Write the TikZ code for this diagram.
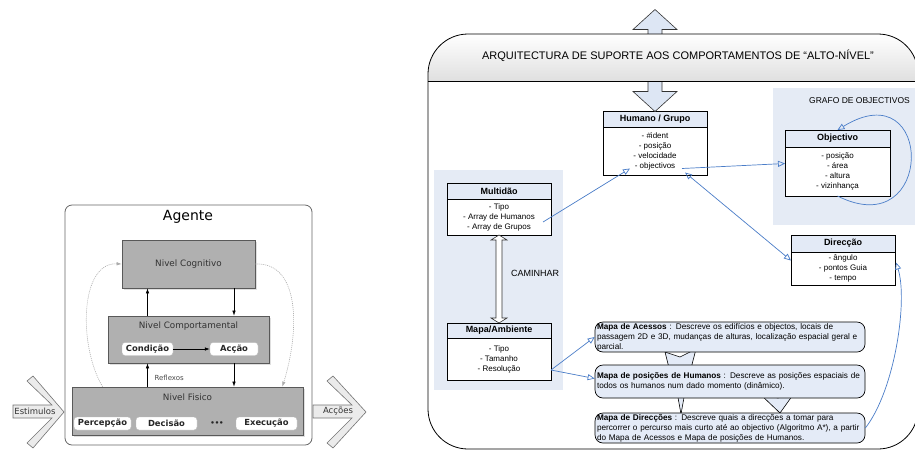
\documentclass[tikz,border=0pt]{standalone}
\usepackage{fontspec}
\setmainfont{Liberation Sans}
\newfontfamily\vera{DejaVu Sans}
\usetikzlibrary{positioning,arrows.meta,shadows}

\definecolor{azulzona}{HTML}{E5EBF5}
\definecolor{azulcab}{HTML}{E3EAF6}
\definecolor{azulmapa}{HTML}{E4EBF7}
\definecolor{azulseta}{HTML}{4A7DC8}
\definecolor{azulbloco}{HTML}{DDE6F4}
\definecolor{cinza}{HTML}{B0B0B0}

\tikzset{
  cab/.style={draw, fill=azulcab, font=\bfseries\fontsize{9}{10}\selectfont,
    minimum width=104pt, minimum height=16pt, inner sep=1pt, outer sep=0pt},
  corpo/.style={draw, fill=white, align=center, font=\fontsize{8}{10}\selectfont,
    minimum width=104pt, inner sep=2pt, outer sep=0pt},
  mapa/.style={draw, line width=0.7pt, rounded corners=8pt, fill=azulmapa, align=left,
    text width=266pt, font=\fontsize{8.2}{10}\selectfont, inner xsep=2pt, inner ysep=0pt},
  seta/.style={draw=azulseta, line width=0.7pt, -{Triangle[open,length=7pt,width=6pt]}},
  seta2/.style={seta, {Triangle[open,length=7pt,width=6pt]}-{Triangle[open,length=7pt,width=6pt]}},
  nivel/.style={draw=black!65, fill=cinza, line width=0.7pt,
    drop shadow={shadow xshift=1.5pt, shadow yshift=-1.5pt, opacity=0.25},
    font=\vera\fontsize{8.8}{10}\selectfont, text=black!80},
  ntxt/.style={font=\vera\fontsize{8.8}{10}\selectfont, text=black!80},
  sub/.style={draw=gray!55, fill=white, rounded corners=3pt, inner sep=0pt,
    minimum height=13pt, font=\vera\bfseries\fontsize{8.4}{9}\selectfont, text=black!85},
  liga/.style={line width=0.6pt, -{Latex[length=5pt,width=3.5pt]}},
  pontilhado/.style={draw=gray!65, line width=0.6pt, dash pattern=on 1pt off 1pt,
    -{Latex[length=5pt,width=3.5pt]}},
  blocoseta/.style={fill=black!8, draw=black!55, line width=0.6pt},
}

\begin{document}
\begin{tikzpicture}[x=1pt,y=-1pt]
  \useasboundingbox (0,0) rectangle (915,451);
  \fill[white] (0,0) rectangle (915,451);

  % Agente (esquerda)
  \draw[blocoseta] (13,405) -- (52,405) -- (27,381) -- (33,376) -- (64,412) -- (33,448) -- (27,443) -- (52,418) -- (13,418) -- cycle;
  \draw[blocoseta] (313,405) -- (352,405) -- (327,381) -- (333,376) -- (366,412) -- (333,448) -- (327,443) -- (352,418) -- (313,418) -- cycle;
  \node[font=\vera\fontsize{8.5}{10}\selectfont, text=black!80] (estim) at (35,411.5) {Estimulos};
  \node[font=\vera\fontsize{8.5}{10}\selectfont, text=black!80] (accoes) at (338,411.5) {Acções};

  \node[draw=black!60, line width=0.8pt, rounded corners=7pt, fill=white,
    minimum width=247pt, minimum height=240pt] (agente) at (188.5,325) {};
  \node[font=\vera\fontsize{14}{16}\selectfont] (tagente) at (188,217) {Agente};

  \node[nivel, minimum width=133pt, minimum height=48pt] (cog) at (188.5,264) {Nivel Cognitivo};
  \node[nivel, minimum width=161pt, minimum height=47pt] (comp) at (188.5,339.5) {};
  \node[ntxt] (tcomp) at (188.5,326) {Nivel Comportamental};
  \node[sub, minimum width=51pt] (cond) at (147.5,349) {Condição};
  \node[sub, minimum width=48pt] (acao) at (234,349) {Acção};
  \node[nivel, minimum width=231pt, minimum height=48pt] (fis) at (187.5,411) {};
  \node[ntxt] (tfis) at (187.5,397) {Nivel Fisico};
  \node[sub, minimum width=57pt] (perc) at (102.5,423.5) {Percepção};
  \node[sub, minimum width=61pt] (dec) at (166.5,423.5) {Decisão};
  \node[font=\vera\bfseries\fontsize{7}{8}\selectfont, text=black!85] (pontos) at (217,423.5) {•••};
  \node[sub, minimum width=61pt] (exe) at (266.5,423.5) {Execução};

  \draw[liga] (cond |- comp.north) -- (cond |- cog.south);
  \draw[liga] (acao |- cog.south) -- (acao |- comp.north);
  \draw[liga] (cond.east) -- (acao.west);
  \draw[liga] (cond |- fis.north) -- (cond |- comp.south);
  \draw[liga] (acao |- comp.south) -- (acao |- fis.north);
  \node[font=\vera\fontsize{7}{8}\selectfont, text=black!70, anchor=west] (reflexos) at (151,378) {Reflexos};
  \draw[pontilhado] (perc |- fis.north) .. controls (78,345) and (80,262) .. (cog.west);
  \draw[pontilhado] (cog.east) .. controls (300,262) and (300,330) .. ([xshift=-21pt]fis.north east);

  % Arquitectura (direita)
  \fill[white, rounded corners=40pt] (428,34) rectangle (918,449);
  \fill[azulzona] (434,170) rectangle (563,390);
  \fill[azulzona] (773,88) rectangle (920,225);

  \node[cab] (hum) at (655,119.5) {Humano / Grupo};
  \node[corpo, below=0pt of hum, minimum height=48pt] (humb) {- \#ident\\- posição\\- velocidade\\- objectivos};
  \node[cab] (mult) at (499,191) {Multidão};
  \node[corpo, below=0pt of mult, minimum height=36pt] (multb) {- Tipo\\- Array de Humanos\\- Array de Grupos};
  \node[cab, minimum height=15pt] (mapa) at (499,330.5) {Mapa/Ambiente};
  \node[corpo, below=0pt of mapa, minimum height=42pt] (mapab) {- Tipo\\- Tamanho\\- Resolução};
  \node[cab, minimum width=105pt, minimum height=17pt] (obj) at (837.5,138.5) {Objectivo};
  \node[corpo, below=0pt of obj, minimum width=105pt, minimum height=49pt] (objb) {- posição\\- área\\- altura\\- vizinhança};
  \node[cab, minimum height=17pt] (dir) at (843,243.5) {Direcção};
  \node[corpo, below=0pt of dir, minimum height=33pt] (dirb) {- ângulo\\- pontos Guia\\- tempo};

  \node[font=\fontsize{8.5}{10}\selectfont, anchor=west, inner sep=1pt] (grafo) at (808,101) {GRAFO DE OBJECTIVOS};
  \node[font=\fontsize{9}{10}\selectfont] (caminhar) at (535,273) {CAMINHAR};

  % setas largas entre os mapas
  \draw[fill=azulmapa, line width=0.6pt] (665,352) -- (680,357) -- (696,349) -- (688,380) -- (672,380) -- cycle;
  \draw[fill=azulmapa, line width=0.6pt] (677,392) -- (685,392) -- (681,414) -- cycle;
  \draw[fill=azulmapa, line width=0.6pt] (760,394) -- (778,398) -- (795,392) -- (780,413) -- cycle;

  \node[mapa, minimum height=30pt] (acc) at (730,337) {\textbf{Mapa de Acessos} : Descreve os edifícios e objectos, locais de\\passagem 2D e 3D, mudanças de alturas, localização espacial geral e\\parcial.};
  \node[mapa, minimum height=33pt] (pos) at (730,381.5) {\textbf{Mapa de posições de Humanos} : Descreve as posições espaciais de\\todos os humanos num dado momento (dinâmico).};
  \node[mapa, minimum height=30pt] (dirm) at (730,428) {\textbf{Mapa de Direcções} : Descreve quais a direcções a tomar para\\percorrer o percurso mais curto até ao objectivo (Algoritmo A*), a partir\\do Mapa de Acessos e Mapa de posições de Humanos.};

  \draw[fill=white, draw=black!80, line width=0.6pt] (multb.south) -- ++(8,5) -- ++(-5,0) -- ++(0,78) -- ++(5,0) -- ++(-8,5)
    -- ++(-8,-5) -- ++(5,0) -- ++(0,-78) -- ++(-5,0) -- cycle;

  \draw[seta] ([xshift=-8pt,yshift=-5pt]multb.east) -- ([xshift=-25pt,yshift=-17pt]humb.center);
  \draw[seta] ([xshift=27pt,yshift=-17pt]humb.center) -- ([yshift=8pt]objb.west);
  \draw[seta2] ([xshift=30pt,yshift=-21pt]humb.center) -- ([yshift=8pt]dirb.west);
  \draw[seta] ([yshift=-11pt]mapab.east) -- (acc.west);
  \draw[seta] ([yshift=-11pt]mapab.east) -- ([yshift=3pt]pos.west);
  \draw[seta] (dirm.east) .. controls (895,390) and (908,300) .. ([xshift=1pt,yshift=6pt]dirb.east);
  \draw[seta] (objb.south) .. controls (935,245) and (935,70) .. (obj.north);

  % seta dupla que atravessa o cabecalho
  \draw[fill=azulbloco, draw=black!80, line width=0.6pt] (hum.north) -- ++(22,-20) -- ++(-15,0) -- ++(0,-62) -- ++(15,0) -- ++(-22,-20)
    -- ++(-22,20) -- ++(15,0) -- ++(0,62) -- ++(-15,0) -- cycle;
  \begin{scope}
    \clip (420,0) rectangle (920,81);
    \shade[top color=white, bottom color=black!25, rounded corners=40pt] (428,34) rectangle (918,130);
  \end{scope}
  \draw[rounded corners=40pt, line width=0.8pt] (428,34) rectangle (918,449);
  \draw[line width=0.8pt] (428,81) -- (918,81);
  \node[font=\fontsize{11}{12}\selectfont] (titulo) at (678,56) {ARQUITECTURA DE SUPORTE AOS COMPORTAMENTOS DE “ALTO-NÍVEL”};
\end{tikzpicture}
\end{document}
